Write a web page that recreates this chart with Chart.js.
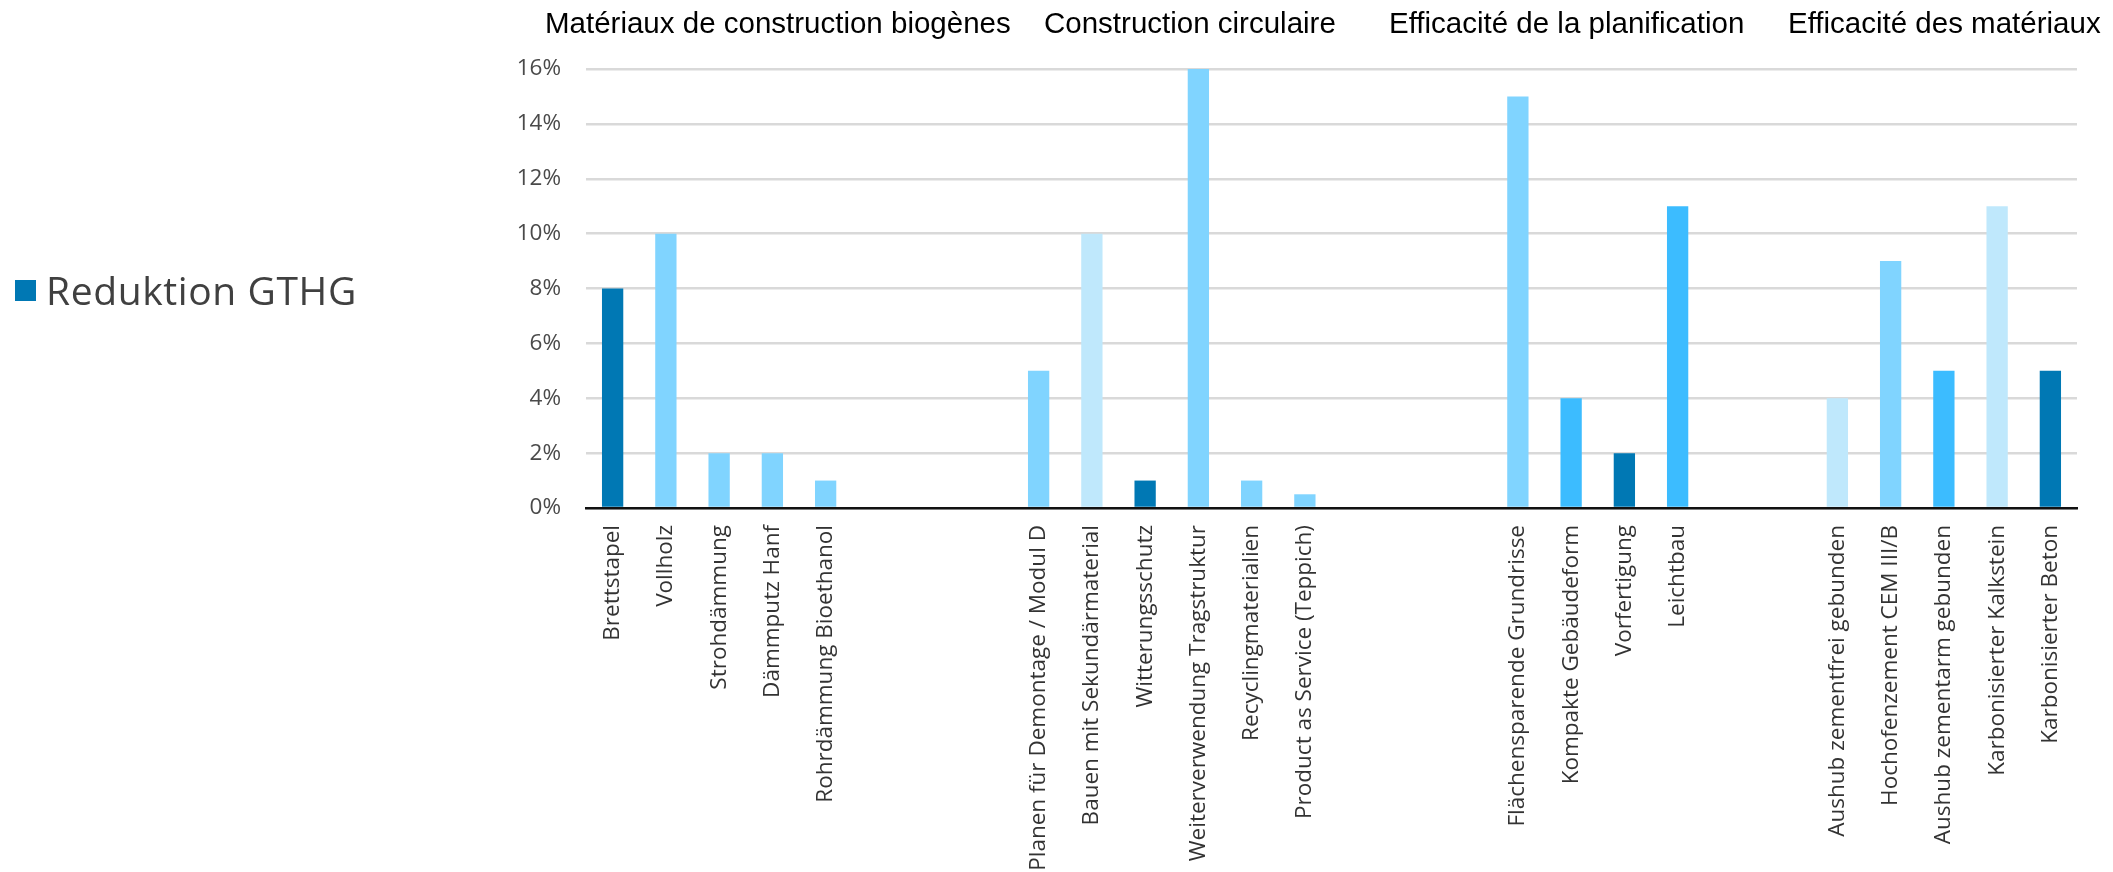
<!DOCTYPE html>
<html>
<head>
<meta charset="utf-8">
<script src="https://cdn.jsdelivr.net/npm/chart.js@4.4.1/dist/chart.umd.min.js"></script>
<style>
    html, body { margin: 0; padding: 0; background: #fff; }
    #wrap { position: relative; width: 2113px; height: 872px; overflow: hidden; }
    #chart { position: absolute; left: 0; top: 0; }
    .grp { position: absolute; top: 8px; font-family: 'Liberation Sans', Arial, sans-serif; font-size: 29.5px; line-height: 29.5px; color: #000; white-space: nowrap; }
    #legend { position: absolute; left: 15px; top: 270px; font-family: 'Open Sans', sans-serif; font-size: 39px; line-height: 39px; letter-spacing: 0.6px; color: #404040; white-space: nowrap; }
    #legend i { position: absolute; left: 0; top: 10px; width: 21px; height: 21px; background: #0078b4; }
    #legend span { position: absolute; left: 31px; top: 0; }
</style>
</head>
<body>
<div id="wrap">
    <canvas id="chart" width="2113" height="872"></canvas>
    <div id="legend"><i></i><span>Reduktion GTHG</span></div>
</div>
<script>
// --- data ---
const categories = [
    'Brettstapel', 'Vollholz', 'Strohdämmung', 'Dämmputz Hanf', 'Rohrdämmung Bioethanol',
    '', '', '',
    'Planen für Demontage / Modul D', 'Bauen mit Sekundärmaterial', 'Witterungsschutz',
    'Weiterverwendung Tragstruktur', 'Recyclingmaterialien', 'Product as Service (Teppich)',
    '', '', '',
    'Flächensparende Grundrisse', 'Kompakte Gebäudeform', 'Vorfertigung', 'Leichtbau',
    '', '',
    'Aushub zementfrei gebunden', 'Hochofenzement CEM III/B', 'Aushub zementarm gebunden',
    'Karbonisierter Kalkstein', 'Karbonisierter Beton',
];
const reduction = [
    8, 10, 2, 2, 1,
    null, null, null,
    5, 10, 1, 16, 1, 0.5,
    null, null, null,
    15, 4, 2, 11,
    null, null,
    4, 9, 5, 11, 5,
];
// shade of each bar: d = dark, m = mid, l = light, p = pale
const barShade = [
    'd', 'l', 'l', 'l', 'l',
    '', '', '',
    'l', 'p', 'd', 'l', 'l', 'l',
    '', '', '',
    'l', 'm', 'd', 'm',
    '', '',
    'p', 'l', 'm', 'p', 'd',
];
const groupTitles = [
    'Matériaux de construction biogènes',
    'Construction circulaire',
    'Efficacité de la planification',
    'Efficacité des matériaux',
];
const yTicks = [0, 2, 4, 6, 8, 10, 12, 14, 16];

const SHADES = { d: '#0078b4', m: '#3cbcff', l: '#80d4ff', p: '#bfe8fc', '': '#fff' };
const TITLE_LEFT = [545, 1044, 1389, 1788];

// group titles above the plot
const wrap = document.getElementById('wrap');
groupTitles.forEach((t, i) => {
    const d = document.createElement('div');
    d.className = 'grp';
    d.style.left = TITLE_LEFT[i] + 'px';
    d.textContent = t;
    wrap.appendChild(d);
});

const tickFont = { family: 'Open Sans', size: 22.5 };

new Chart(document.getElementById('chart'), {
    type: 'bar',
    data: {
        labels: categories,
        datasets: [{
            label: 'Reduktion GTHG',
            data: reduction,
            backgroundColor: barShade.map(s => SHADES[s]),
            barPercentage: 0.4,
            categoryPercentage: 1.0,
        }],
    },
    options: {
        responsive: false,
        animation: false,
        devicePixelRatio: 1,
        layout: { padding: { left: 500, right: 36, top: 69, bottom: 0 } },
        plugins: { legend: { display: false }, tooltip: { enabled: false } },
        scales: {
            x: {
                grid: { display: false, drawTicks: false },
                border: { color: '#111', width: 2.5 },
                ticks: {
                    autoSkip: false,
                    minRotation: 90,
                    maxRotation: 90,
                    padding: 17,
                    color: '#333',
                    font: tickFont,
                },
                afterFit: (s) => { s.height = 364; },
            },
            y: {
                min: 0,
                max: 16,
                afterBuildTicks: (s) => { s.ticks = yTicks.map(v => ({ value: v })); },
                grid: { color: '#d9d9d9', lineWidth: 2.5, drawTicks: false },
                border: { display: false },
                ticks: {
                    padding: 25,
                    color: '#4a4a4a',
                    font: tickFont,
                    callback: (v) => v + '%',
                },
                afterFit: (s) => { s.width = 86; },
            },
        },
    },
});
</script>
</body>
</html>
